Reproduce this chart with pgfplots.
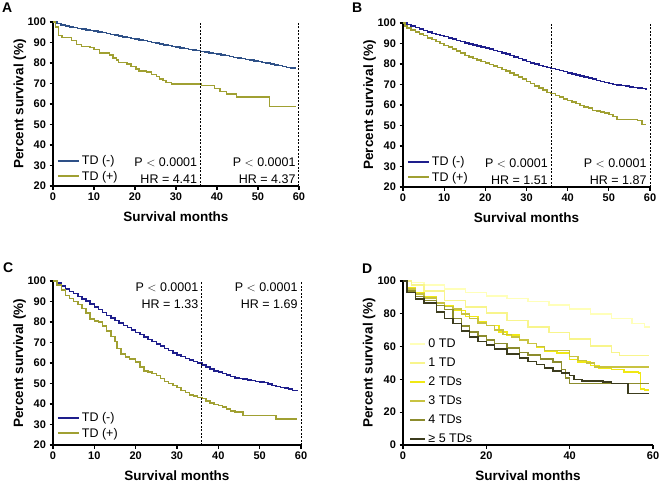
\documentclass[border=0pt]{standalone}
\usepackage{pgfplots}
\pgfplotsset{compat=1.18}
\usepackage{fontspec}
\setmainfont{Liberation Sans}
\definecolor{blueA}{RGB}{46,80,135}
\definecolor{blueB}{RGB}{30,30,140}
\definecolor{olive1}{RGB}{160,160,50}
\definecolor{dz}{RGB}{255,255,185}
\definecolor{dy}{RGB}{248,245,140}
\definecolor{dtw}{RGB}{240,232,20}
\definecolor{dth}{RGB}{200,195,65}
\definecolor{dfo}{RGB}{140,140,45}
\definecolor{dfi}{RGB}{60,60,30}
\tikzset{ann/.style={font=\fontsize{12.5}{12.5}\selectfont, anchor=east, inner sep=0pt}}
\pgfplotsset{
  km/.style={
    scale only axis, axis lines=left, axis line style={-, line width=1.1pt},
    tick align=outside, major tick style={black, line width=1.1pt}, major tick length=3.5pt,
    xmin=0, xmax=60, ymin=20, ymax=100,
    xtick={0,10,...,60}, ytick={20,30,...,100},
    /pgf/number format/assume math mode=true,
    tick label style={font=\bfseries\fontsize{11}{11}\selectfont},
    xlabel={Survival months}, ylabel={Percent survival (\%)},
    label style={font=\bfseries\fontsize{13.5}{13.5}\selectfont},
    xlabel style={at={(axis description cs:0.5,-0.19)}, anchor=center},
    ylabel style={at={(axis description cs:-0.135,0.5)}, anchor=center},
    clip=false, legend cell align=left,
    legend image code/.code={\draw[#1, line width=2pt] (0pt,0pt) -- (21pt,0pt);},
    legend style={draw=none, fill=none, font=\fontsize{12.5}{12.5}\selectfont, inner sep=0pt, row sep=1pt},
  },
  kmline/.style={const plot, line width=1.5pt, no marks},
}
\begin{document}
\begin{tikzpicture}
\path[use as bounding box] (0pt,0pt) rectangle (660pt,483pt);
\node[font=\bfseries\fontsize{14}{14}\selectfont, anchor=base west, inner sep=0pt] at (2pt,470pt) {A};
\node[font=\bfseries\fontsize{14}{14}\selectfont, anchor=base west, inner sep=0pt] at (352pt,470pt) {B};
\node[font=\bfseries\fontsize{14}{14}\selectfont, anchor=base west, inner sep=0pt] at (3pt,211pt) {C};
\node[font=\bfseries\fontsize{14}{14}\selectfont, anchor=base west, inner sep=0pt] at (362pt,210pt) {D};

% ---------------- A
\begin{axis}[km, at={(53pt,297pt)}, anchor=south west, width=246pt, height=164pt,
  legend style={at={(axis description cs:0.015,0.107)}, anchor=west}]
\addplot[kmline, blueA] coordinates {(0,100)(1,99.3)(2,98.6)(3,98.1)(4,97.6)(5,97.2)(6,96.8)(7,96.5)(8,96.1)(9,95.8)(10,95.5)(11,95.1)(12,94.8)(13,94.4)(14,94.0)(15,93.6)(16,93.2)(17,92.8)(18,92.4)(19,92.0)(20,91.7)(21,91.3)(22,90.9)(23,90.5)(24,90.1)(25,89.7)(26,89.3)(27,88.9)(28,88.5)(29,88.1)(30,87.7)(31,87.4)(32,87.0)(33,86.7)(34,86.3)(35,86.0)(36,85.7)(37,85.4)(38,85.0)(39,84.7)(40,84.4)(41,84.0)(42,83.6)(43,83.2)(44,82.8)(45,82.5)(46,82.1)(47,81.7)(48,81.4)(49,81.1)(50,80.7)(51,80.3)(52,79.9)(53,79.5)(54,79.1)(55,78.7)(56,78.3)(57,77.9)(58,77.6)(59,77.2)};
\addlegendentry{TD (-)}
\addplot[kmline, olive1] coordinates {(0,100)(0.6,97.5)(1.3,93.5)(2.2,92.5)(4.5,91)(5.7,89)(7,88)(9,87.5)(10,86.5)(11.4,85)(13.8,84)(14.6,82.5)(15.5,81.5)(16,80.3)(18,79.5)(19,78.3)(20.3,77)(21,76)(22.8,75.5)(24,74.5)(25.2,73.5)(26,72.3)(26.8,71.5)(27.6,70.5)(28.9,69.8)(36.2,69)(39.4,67.5)(40.7,66)(42.3,64.8)(44.7,63.3)(52.8,58.7)(59.3,58.7)};
\addlegendentry{TD (+)}
\addplot[black, line width=1pt, dash pattern=on 2pt off 1.5pt, forget plot] coordinates {(36,20)(36,100)};
\addplot[black, line width=1pt, dash pattern=on 2pt off 1.5pt, forget plot] coordinates {(60,20)(60,100)};
\node[ann] at (axis cs:35.2,31.5) {P\;$<$\;0.0001};
\node[ann] at (axis cs:35.2,23.3) {HR = 4.41};
\node[ann] at (axis cs:59.2,31.5) {P\;$<$\;0.0001};
\node[ann] at (axis cs:59.2,23.3) {HR = 4.37};
\end{axis}

% ---------------- B
\begin{axis}[km, at={(403pt,296pt)}, anchor=south west, width=247pt, height=164pt,
  legend style={at={(axis description cs:0.015,0.107)}, anchor=west}]
\addplot[kmline, blueB] coordinates {(0,100)(1,99.2)(2,98.5)(3,97.7)(4,97)(5,96.3)(6,95.6)(7,95)(8,94.4)(9,93.8)(10,93.3)(11,92.7)(12,92.1)(13,91.5)(14,90.9)(15,90.3)(16,89.8)(17,89.3)(18,88.8)(19,88.3)(20,87.8)(21,87.2)(22,86.6)(23,86)(24,85.4)(25,84.8)(26,84.1)(27,83.4)(28,82.7)(29,82)(30,81.2)(31,80.5)(32,79.9)(33,79.3)(34,78.8)(35,78.3)(36,77.9)(37,77.4)(38,76.8)(39,76.3)(40,75.7)(41,75.2)(42,74.6)(43,74.1)(44,73.6)(45,73.1)(46,72.6)(47,72)(48,71.4)(49,70.9)(50,70.4)(51,70)(52,69.8)(53,69.5)(54,69.2)(55,68.9)(56,68.6)(57,68.3)(58,68)(59,67.7)};
\addlegendentry{TD (-)}
\addplot[kmline, olive1] coordinates {(0,100)(0.5,98.5)(1,97.5)(2,96.5)(3,95.5)(4,94.6)(5,93.8)(6,92.8)(7,91.9)(8,91)(9,90)(10,89)(11,88.2)(12,87.3)(13,86.3)(14,85.3)(15,84.2)(16,83.5)(17,82.8)(18,82)(19,81.3)(20,80.6)(21,79.8)(22,79)(23,78.2)(24,77.4)(25,76.6)(26,75.6)(27,74.6)(28,73.6)(29,72.6)(30,71.5)(31,70.4)(32,69.3)(33,68.2)(34,67.2)(35,66.2)(36,65.5)(37,64.6)(38,63.8)(39,63)(40,62.3)(41,61.5)(42,60.7)(43,59.8)(44,59)(45,58.6)(46,57.4)(47,57)(48,56.6)(49,56)(50,55.3)(51,54.4)(52,53)(57,52.5)(58,50.5)(59,50.5)};
\addlegendentry{TD (+)}
\addplot[black, line width=1pt, dash pattern=on 2pt off 1.5pt, forget plot] coordinates {(36,20)(36,100)};
\addplot[black, line width=1pt, dash pattern=on 2pt off 1.5pt, forget plot] coordinates {(60,20)(60,100)};
\node[ann] at (axis cs:35.2,31.5) {P\;$<$\;0.0001};
\node[ann] at (axis cs:35.2,23.3) {HR = 1.51};
\node[ann] at (axis cs:59.2,31.5) {P\;$<$\;0.0001};
\node[ann] at (axis cs:59.2,23.3) {HR = 1.87};
\end{axis}

% ---------------- C
\begin{axis}[km, at={(53pt,38pt)}, anchor=south west, width=248pt, height=164pt,
  legend style={at={(axis description cs:0.015,0.118)}, anchor=west}]
\addplot[kmline, blueB] coordinates {(0,100)(1,99)(2,97.5)(3,96)(4,95)(5,93.8)(6,92.5)(7,91.3)(8,90.2)(9,88.8)(10,87.4)(11,86)(12,84.6)(13,83.2)(14,82)(15,80.8)(16,79.6)(17,78.4)(18,77.3)(19,76.2)(20,75)(21,73.8)(22,72.6)(23,71.5)(24,70.4)(25,69.3)(26,68.2)(27,67.1)(28,66)(29,65)(30,64)(31,63.1)(32,62.3)(33,61.5)(34,60.7)(35,59.9)(36,59)(37,58)(38,57)(39,56.2)(40,55.5)(41,54.8)(42,54.1)(43,53.4)(44,52.8)(45,52.4)(46,52.1)(47,51.8)(48,51.4)(49,51.1)(50,50.8)(51,50.4)(52,49.8)(53,49.1)(54,48.5)(55,48.1)(56,47.7)(57,47.2)(58,46.7)(59,46.2)};
\addlegendentry{TD (-)}
\addplot[kmline, olive1] coordinates {(0,100)(1,98)(2,95.5)(3,93)(4,91.5)(5,90)(6,88.5)(7,86.5)(8,84.5)(9,81.5)(10,80.5)(11,80)(12,78)(13,75.5)(14,73)(15,70.5)(15.5,67)(16.5,64.5)(17.5,63)(18.5,62)(20,60.5)(21,58)(22,56.2)(23,55.5)(24,55)(25,54)(26,52.5)(27,51)(28,50)(29,49)(30,48)(31,46.5)(32,45.5)(33,44.5)(34,43.8)(35,43.2)(36,42.6)(37,41.5)(38,40.5)(39,39.8)(40,39.2)(41,38.5)(42,37.5)(43,36.6)(44,36)(46,34.5)(54,32.7)(59,32.7)};
\addlegendentry{TD (+)}
\addplot[black, line width=1pt, dash pattern=on 2pt off 1.5pt, forget plot] coordinates {(36,20)(36,100)};
\addplot[black, line width=1pt, dash pattern=on 2pt off 1.5pt, forget plot] coordinates {(60,20)(60,100)};
\node[ann] at (axis cs:35.2,97.1) {P\;$<$\;0.0001};
\node[ann] at (axis cs:35.2,88.8) {HR = 1.33};
\node[ann] at (axis cs:59.2,97.1) {P\;$<$\;0.0001};
\node[ann] at (axis cs:59.2,88.8) {HR = 1.69};
\end{axis}

% ---------------- D
\begin{axis}[km, at={(403pt,38pt)}, anchor=south west, width=250pt, height=164pt,
  ymin=0, ymax=100, ytick={0,20,...,100}, xtick={0,20,40,60},
  legend image code/.code={\draw[#1, line width=2pt] (0pt,0pt) -- (15pt,0pt);},
  legend style={at={(axis description cs:0.025,0.66)}, anchor=north west, row sep=4.8pt}]
\addplot[kmline, dz] coordinates {(0,100)(2,99)(5,97.5)(10,95)(15,93)(20,91)(25,89.2)(30,87.5)(35,85.5)(40,83)(45,80)(50,77)(55,74)(58,72)(59,71.5)};
\addlegendentry{0 TD}
\addplot[kmline, dy] coordinates {(0,100)(2,97.5)(5,94)(10,88)(15,84)(20,80.5)(25,76)(30,72)(35,68.5)(40,64.5)(45,60.5)(50,56.5)(52,54.5)(59,54.5)};
\addlegendentry{1 TD}
\addplot[kmline, dtw] coordinates {(0,100)(1,96)(3,93)(5,90.5)(8,87)(10,85)(12,82)(15,78.5)(18,75)(20,73)(23,69)(25,67)(28,64)(30,62)(32,59.5)(34,57)(37,56)(40,52)(42,50.5)(45,48.5)(47,47)(50,46)(53,44.5)(56.5,44)(57,34)(58,33.5)(59,33.5)};
\addlegendentry{2 TDs}
\addplot[kmline, dth] coordinates {(0,100)(1,95)(3,92)(5,89.5)(8,86.5)(10,84.5)(12,83)(14,80)(16,77)(18,74.5)(20,73)(22,70)(24,67.5)(26,66)(28,64)(30,62)(32,60)(34,57.5)(38,57.5)(40,54)(42,51.5)(44,50)(46,47.5)(59,47.5)};
\addlegendentry{3 TDs}
\addplot[kmline, dfo] coordinates {(0,100)(1,94)(3,90.5)(5,88)(8,85)(10,82.5)(12,77)(14,72.5)(16,69)(18,66.5)(20,64)(22,62)(25,59)(28,56.5)(30,55)(33,52.5)(36,50.5)(38,46)(39,41)(40,37.5)(59,37.5)};
\addlegendentry{4 TDs}
\addplot[kmline, dfi] coordinates {(0,100)(1,93)(3,89)(5,86.5)(8,81)(10,77)(12,74)(14,69.5)(16,66)(18,63)(20,61)(22,58.5)(25,55.5)(28,53)(30,51)(32,49)(34,47)(36,45)(38,44)(40,42.5)(41,40)(43,39)(48,38.5)(50,37.5)(54,31.5)(59,31.5)};
\addlegendentry{≥ 5 TDs}
\end{axis}
\end{tikzpicture}
\end{document}
